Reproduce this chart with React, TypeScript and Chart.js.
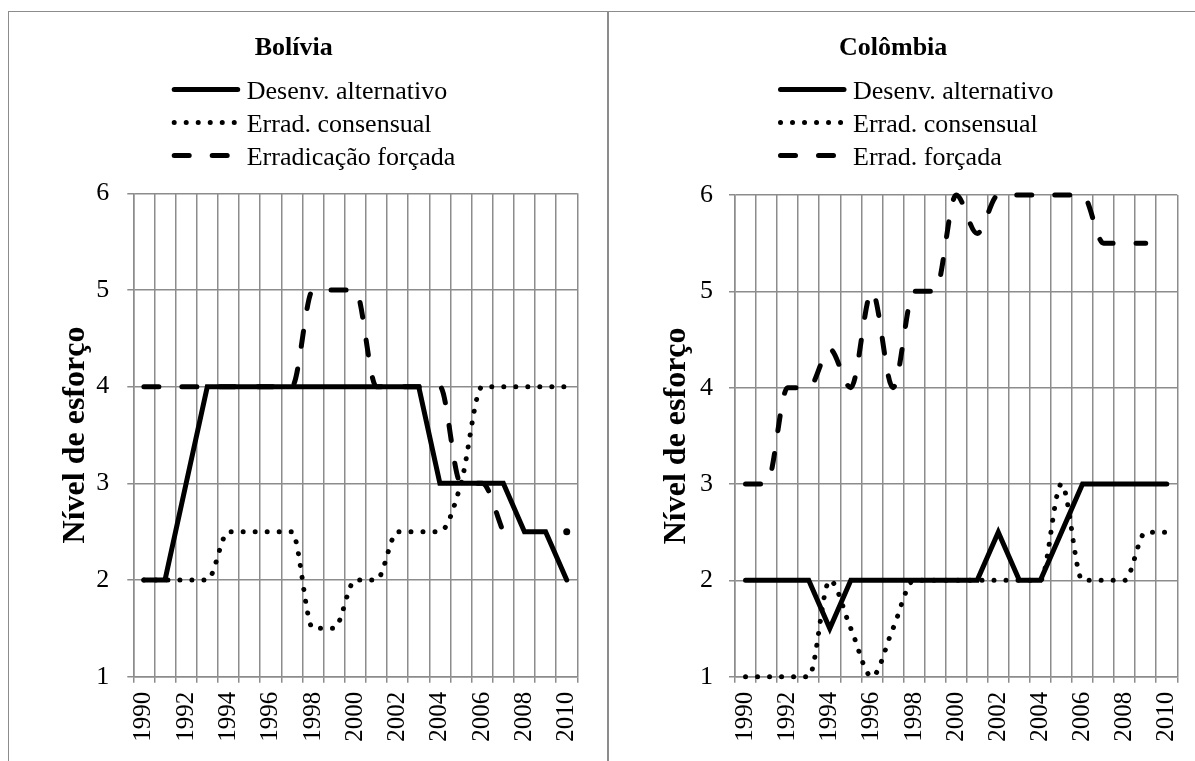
import React, { useEffect, useRef } from "react";
import { Chart, registerables } from "chart.js";

Chart.register(...registerables);

const FONT = "'Liberation Serif', 'Times New Roman', serif";

// ---------- data ----------
const years = [
  "1990", "1991", "1992", "1993", "1994", "1995", "1996", "1997", "1998", "1999", "2000",
  "2001", "2002", "2003", "2004", "2005", "2006", "2007", "2008", "2009", "2010",
];
const yTickValues = [1, 2, 3, 4, 5, 6];

const boliviaTitle = "Bolívia";
const boliviaLabels = ["Desenv. alternativo", "Errad. consensual", "Erradicação forçada"];
const boliviaDesenv = [2, 2, 3, 4, 4, 4, 4, 4, 4, 4, 4, 4, 4, 4, 3, 3, 3, 3, 2.5, 2.5, 2];
const boliviaConsensual = [2, 2, 2, 2, 2.5, 2.5, 2.5, 2.5, 1.5, 1.5, 2, 2, 2.5, 2.5, 2.5, 3, 4, 4, 4, 4, 4];
const boliviaForcada = [4, 4, 4, 4, 4, 4, 4, 4, 5, 5, 5, 4, 4, 4, 4, 3, 3, 2.5, null, null, 2.5];

const colombiaTitle = "Colômbia";
const colombiaLabels = ["Desenv. alternativo", "Errad. consensual", "Errad. forçada"];
const colombiaDesenv = [2, 2, 2, 2, 1.5, 2, 2, 2, 2, 2, 2, 2, 2.5, 2, 2, 2.5, 3, 3, 3, 3, 3];
const colombiaConsensual = [1, 1, 1, 1, 2, 1.5, 1, 1.5, 2, 2, 2, 2, 2, 2, 2, 3, 2, 2, 2, 2.5, 2.5];
const colombiaForcada = [3, 3, 4, 4, 4.4, 4, 5, 4, 5, 5, 6, 5.6, 6, 6, 6, 6, 6, 5.5, 5.5, 5.5, null];

const yAxisTitle = "Nível de esforço";

// ---------- legend plugin ----------
const lineLegendPlugin = {
  id: "lineLegend",
  afterDraw(chart: any, _args: any, opts: any) {
    const ctx = chart.ctx;
    ctx.save();
    chart.data.datasets.forEach((ds: any, i: number) => {
      const base = opts.firstBaseline + i * opts.rowGap;
      const ly = base - opts.lineRaise;
      ctx.beginPath();
      ctx.lineWidth = ds.borderWidth;
      ctx.strokeStyle = ds.borderColor;
      ctx.lineCap = "round";
      ctx.setLineDash(ds.borderDash || []);
      ctx.moveTo(opts.x0 + 2.5, ly);
      ctx.lineTo(opts.x0 + opts.sampleLen, ly);
      ctx.stroke();
      ctx.setLineDash([]);
      ctx.font = opts.font;
      ctx.fillStyle = "#000";
      ctx.textAlign = "left";
      ctx.textBaseline = "alphabetic";
      ctx.fillText(ds.label, opts.x0 + opts.textOffset, base);
    });
    ctx.restore();
  },
};

type PanelSpec = {
  title: string;
  labels: string[];
  desenv: (number | null)[];
  consensual: (number | null)[];
  forcada: (number | null)[];
  forcadaPointRadius: number[];
  width: number;
  height: number;
  axisWidth: number;
  rightPad: number;
  areaTop: number;
  areaBottom: number;
  yTitlePad: number;
  yTickPad: number;
  legendX: number;
};

function buildConfig(p: PanelSpec): any {
  const GRID = "#8c8c8c";
  return {
    type: "line",
    data: {
      labels: years,
      datasets: [
        {
          label: p.labels[0],
          data: p.desenv,
          borderColor: "#000",
          borderWidth: 5,
          borderCapStyle: "round",
          tension: 0,
          pointRadius: 0,
          clip: false,
        },
        {
          label: p.labels[1],
          data: p.consensual,
          borderColor: "#000",
          borderWidth: 5,
          borderDash: [0.01, 12],
          borderCapStyle: "round",
          cubicInterpolationMode: "monotone",
          pointRadius: 0,
          clip: false,
        },
        {
          label: p.labels[2],
          data: p.forcada,
          borderColor: "#000",
          borderWidth: 5,
          borderDash: [15, 23],
          borderCapStyle: "round",
          cubicInterpolationMode: "monotone",
          pointRadius: p.forcadaPointRadius,
          pointBackgroundColor: "#000",
          pointBorderWidth: 0,
          spanGaps: false,
          clip: false,
        },
      ],
    },
    options: {
      responsive: false,
      animation: false,
      events: [],
      layout: { padding: { top: 0, left: 0, right: p.rightPad, bottom: 0 } },
      plugins: {
        legend: { display: false },
        tooltip: { enabled: false },
        title: {
          display: true,
          text: p.title,
          color: "#000",
          font: { family: FONT, size: 26, weight: "bold", lineHeight: 1.2 },
          padding: { top: 20, bottom: p.areaTop - 20 - 31.2 },
        },
        lineLegend: {
          x0: p.legendX,
          firstBaseline: 85.5,
          rowGap: 33,
          lineRaise: 9,
          sampleLen: 66,
          textOffset: 75,
          font: `26px ${FONT}`,
        },
      },
      scales: {
        x: {
          type: "category",
          offset: true,
          grid: {
            offset: true,
            color: GRID,
            lineWidth: 1.5,
            tickLength: 6,
            drawTicks: true,
          },
          border: { color: GRID, width: 1.5 },
          ticks: {
            autoSkip: false,
            minRotation: 90,
            maxRotation: 90,
            padding: 9,
            color: "#000",
            font: { family: FONT, size: 25 },
            callback: function (this: any, value: any, index: number) {
              return index % 2 === 0 ? years[index] : "";
            },
          },
          afterFit: (scale: any) => {
            scale.height = p.height - p.areaBottom;
            scale.paddingLeft = 0;
            scale.paddingRight = 0;
          },
        },
        y: {
          min: 1,
          max: 6,
          afterBuildTicks: (scale: any) => {
            scale.ticks = yTickValues.map((v) => ({ value: v }));
          },
          grid: { color: GRID, lineWidth: 1.5, tickLength: 6 },
          border: { color: GRID, width: 1.5 },
          ticks: {
            padding: p.yTickPad,
            color: "#000",
            font: { family: FONT, size: 26 },
          },
          title: {
            display: true,
            text: yAxisTitle,
            color: "#000",
            font: { family: FONT, size: 32, weight: "bold", lineHeight: 1.2 },
            padding: { top: p.yTitlePad, bottom: 0 },
          },
          afterFit: (scale: any) => {
            scale.width = p.axisWidth;
          },
        },
      },
    },
    plugins: [lineLegendPlugin],
  };
}

function ChartPanel({ spec, left, top }: { spec: PanelSpec; left: number; top: number }) {
  const ref = useRef<HTMLCanvasElement | null>(null);
  useEffect(() => {
    if (!ref.current) return;
    const chart = new Chart(ref.current, buildConfig(spec));
    return () => chart.destroy();
  }, []);
  return (
    <canvas
      ref={ref}
      width={spec.width}
      height={spec.height}
      style={{ position: "absolute", left, top, width: spec.width, height: spec.height }}
    />
  );
}

const boliviaSpec: PanelSpec = {
  title: boliviaTitle,
  labels: boliviaLabels,
  desenv: boliviaDesenv,
  consensual: boliviaConsensual,
  forcada: boliviaForcada,
  forcadaPointRadius: boliviaForcada.map((_, i) => (i === 20 ? 3.5 : 0)),
  width: 596,
  height: 748,
  axisWidth: 123.3,
  rightPad: 596 - 567.3,
  areaTop: 180.3,
  areaBottom: 663.7,
  yTitlePad: 46.5,
  yTickPad: 18,
  legendX: 161.7,
};

const colombiaSpec: PanelSpec = {
  title: colombiaTitle,
  labels: colombiaLabels,
  desenv: colombiaDesenv,
  consensual: colombiaConsensual,
  forcada: colombiaForcada,
  forcadaPointRadius: colombiaForcada.map(() => 0),
  width: 598,
  height: 748,
  axisWidth: 126,
  rightPad: 598 - 568.3,
  areaTop: 182,
  areaBottom: 663.7,
  yTitlePad: 48.5,
  yTickPad: 16,
  legendX: 169,
};

export default function App() {
  return (
    <div
      style={{
        position: "fixed",
        left: 0,
        top: 0,
        width: 1195,
        height: 761,
        overflow: "hidden",
        background: "#fff",
      }}
    >
      <div
        style={{
          position: "absolute",
          left: 8,
          top: 11,
          width: 600,
          height: 800,
          boxSizing: "border-box",
          border: "1.5px solid #8c8c8c",
        }}
      />
      <div
        style={{
          position: "absolute",
          left: 608,
          top: 11,
          width: 602,
          height: 800,
          boxSizing: "border-box",
          border: "1.5px solid #8c8c8c",
        }}
      />
      <ChartPanel spec={boliviaSpec} left={10} top={13} />
      <ChartPanel spec={colombiaSpec} left={609} top={13} />
    </div>
  );
}
